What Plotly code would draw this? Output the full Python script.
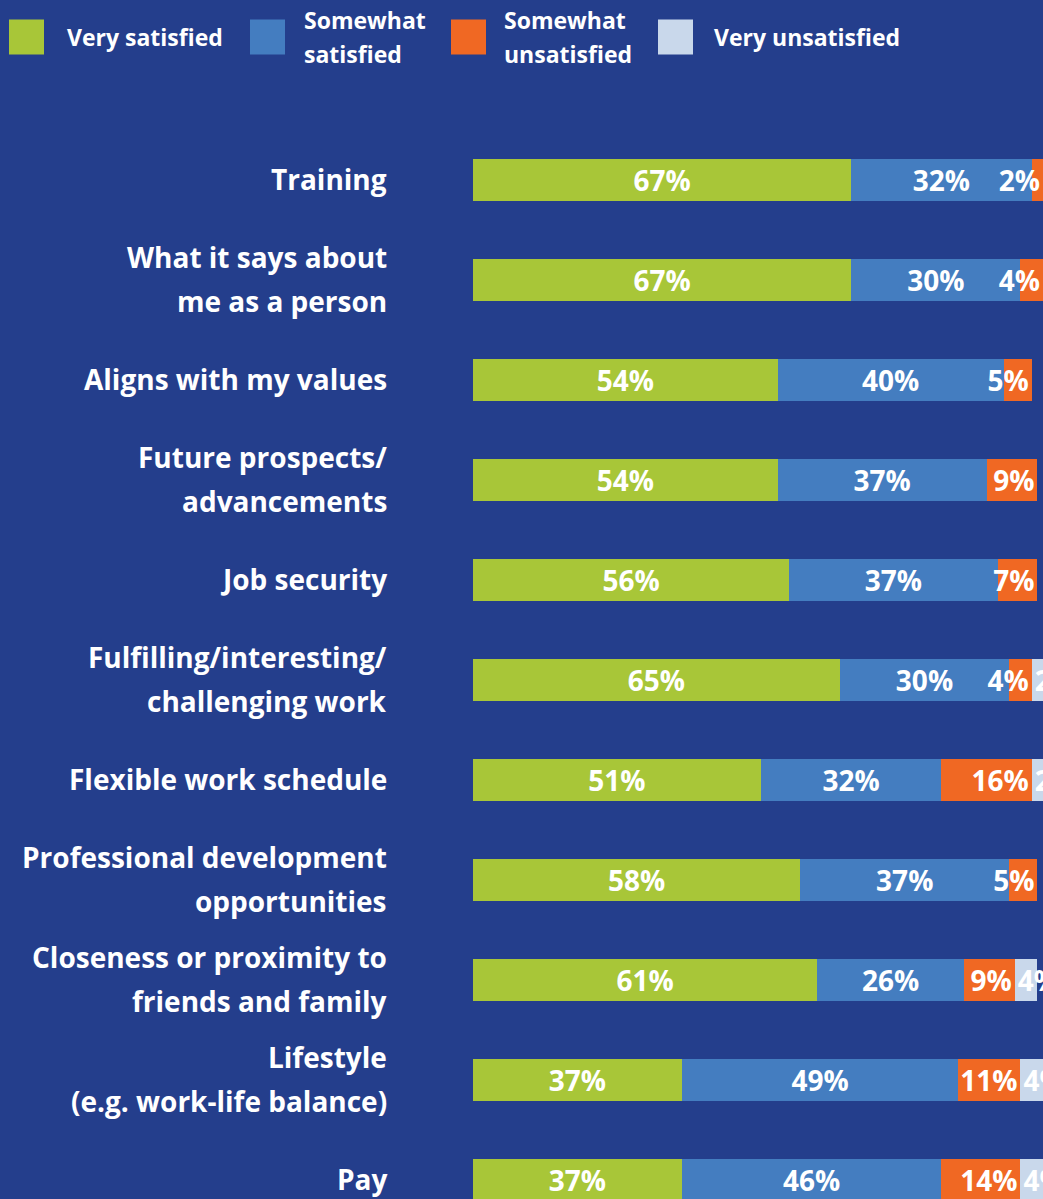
import plotly.graph_objects as go

# ---- data ----
categories = [
    "Training",
    "What it says about<br>me as a person",
    "Aligns with my values",
    "Future prospects/<br>advancements",
    "Job security",
    "Fulfilling/interesting/<br>challenging work",
    "Flexible work schedule",
    "Professional development<br>opportunities",
    "Closeness or proximity to<br>friends and family",
    "Lifestyle<br>(e.g. work-life balance)",
    "Pay",
]
series_names = ["Very satisfied", "Somewhat<br>satisfied", "Somewhat<br>unsatisfied", "Very unsatisfied"]
very_satisfied = [67, 67, 54, 54, 56, 65, 51, 58, 61, 37, 37]
somewhat_satisfied = [32, 30, 40, 37, 37, 30, 32, 37, 26, 49, 46]
somewhat_unsatisfied = [2, 4, 5, 9, 7, 4, 16, 5, 9, 11, 14]
very_unsatisfied = [0, 0, 0, 0, 0, 2, 2, 0, 4, 4, 4]

# ---- styles ----
BG = "#243E8C"
colors = ["#A8C638", "#447DC0", "#F06823", "#C9D8EB"]
text_anchors = ["middle", "middle", "end", "start"]
FONT = "Open Sans"
W, H = 1043, 1199
ML, MT = 473, 100

fig = go.Figure()
for name, vals, col, anc in zip(series_names,
                                [very_satisfied, somewhat_satisfied, somewhat_unsatisfied, very_unsatisfied],
                                colors, text_anchors):
    fig.add_trace(go.Bar(
        orientation="h",
        y=categories,
        x=vals,
        name=name,
        marker=dict(color=col, line=dict(width=0)),
        text=[f"{v}%" if v else "" for v in vals],
        textposition="inside",
        insidetextanchor=anc,
        textangle=0,
        textfont=dict(family=FONT, size=28, color="white", weight=700),
        showlegend=False,
        cliponaxis=True,
    ))

plot_w = W - ML
plot_h = H - MT


def px_to_paper(px, py):
    return (px - ML) / plot_w, (H - py) / plot_h


annotations = []
# category labels (right-aligned left of bars)
LINE_GAP = 44
for cat in categories:
    lines = cat.split("<br>")
    n = len(lines)
    for i, ln in enumerate(lines):
        annotations.append(dict(
            xref="paper", yref="y", x=0, y=cat, xanchor="right", yanchor="middle",
            xshift=-84, yshift=((n - 1) / 2 - i) * LINE_GAP + 1,
            text=ln, showarrow=False,
            font=dict(family=FONT, size=28, color="white", weight=700),
        ))

# manual legend
leg_swatch_x = [9, 250, 451, 658]
leg_text_x = [65, 302, 502, 712]
sw = 35
leg_cy = 37
shapes = []
for name, col, sx, tx in zip(series_names, colors, leg_swatch_x, leg_text_x):
    x0, y1 = px_to_paper(sx, leg_cy - sw / 2)
    x1, y0 = px_to_paper(sx + sw, leg_cy + sw / 2)
    shapes.append(dict(type="rect", xref="paper", yref="paper", x0=x0, x1=x1, y0=y0, y1=y1,
                       fillcolor=col, line=dict(width=0), layer="above"))
    lines = name.split("<br>")
    n = len(lines)
    for i, ln in enumerate(lines):
        ax, ay = px_to_paper(tx, leg_cy + (i - (n - 1) / 2) * 34)
        annotations.append(dict(
            xref="paper", yref="paper", x=ax, y=ay, xanchor="left", yanchor="middle",
            text=ln, showarrow=False,
            font=dict(family=FONT, size=23, color="white", weight=700),
        ))

fig.update_layout(
    barmode="stack",
    bargap=0.58,
    width=W, height=H,
    margin=dict(l=ML, r=0, t=MT, b=0, pad=0),
    paper_bgcolor=BG, plot_bgcolor=BG,
    xaxis=dict(range=[0, 101], visible=False, fixedrange=True),
    yaxis=dict(categoryorder="array", categoryarray=categories,
               range=[10.195, -0.795], showticklabels=False, showgrid=False,
               zeroline=False, showline=False, ticks=""),
    uniformtext=dict(minsize=28, mode="show"),
    annotations=annotations,
    shapes=shapes,
    font=dict(family=FONT, color="white"),
)

fig.write_html("out.html", config={"displayModeBar": False},
               post_script="document.body.style.margin='0';document.body.style.background='%s';" % BG)
